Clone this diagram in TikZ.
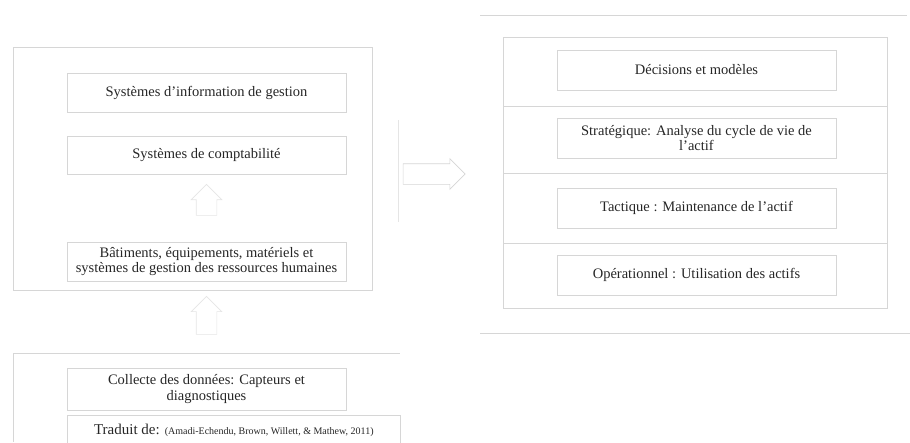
\documentclass[tikz,border=0pt]{standalone}
\usepackage{fontspec}
\setmainfont{Liberation Serif}
\usetikzlibrary{shapes.arrows,calc}
\definecolor{edge}{gray}{0.84}
\definecolor{faint}{gray}{0.9}
\definecolor{ink}{gray}{0.15}
\begin{document}
\begin{tikzpicture}[x=1pt,y=-1pt,
  panel/.style={draw=edge,line width=0.7pt},
  boxed/.style={draw=edge,line width=0.7pt,text=ink,align=center,
    minimum width=279pt,inner sep=2pt,font=\fontsize{14.5}{15.5}\selectfont},
  blockarrow/.style={single arrow,draw=faint,fill=white,line width=0.6pt,
    single arrow head extend=5pt}]
\useasboundingbox (0,0) rectangle (910,442);
% left panel and bottom panel
\draw[panel] (13,47) rectangle (372,290);
\draw[panel] (13,353) -- (400,353);
\draw[panel] (13,353) -- (13,442);
% right panel
\draw[panel] (480,15) -- (907,15);
\draw[panel] (480,333) -- (910,333);
\draw[panel] (503,37) rectangle (887,308);
\draw[panel] (503,106) -- (887,106);
\draw[panel] (503,173) -- (887,173);
\draw[panel] (503,243) -- (887,243);
\draw[faint,line width=0.4pt] (398,120) -- (398,222);
% left boxes
\node[boxed,minimum height=39pt] (sig) at (206.5,92.5) {Systèmes d'information de gestion};
\node[boxed,minimum height=38pt] (compta) at (206.5,155) {Systèmes de comptabilité};
\node[boxed,minimum height=39pt] (bat) at (206.5,261.5) {Bâtiments, équipements, matériels et\\systèmes de gestion des ressources humaines};
\node[boxed,minimum height=42pt] (collecte) at (206.5,389) {Collecte des données: Capteurs et\\diagnostiques};
\node[boxed,minimum width=333pt,minimum height=30pt,anchor=north west,inner xsep=20pt] (trad) at (67,415)
  {\fontsize{15}{16}\selectfont Traduit de: {\fontsize{10}{11}\selectfont(Amadi-Echendu, Brown, Willett, \& Mathew, 2011)}};
% right boxes
\node[boxed,minimum height=40pt] (dec) at (696.5,70) {Décisions et modèles};
\node[boxed,minimum height=40pt] (strat) at (696.5,138) {Stratégique: Analyse du cycle de vie de\\l'actif};
\node[boxed,minimum height=40pt] (tact) at (696.5,208) {Tactique : Maintenance de l'actif};
\node[boxed,minimum height=40pt] (oper) at (696.5,275) {Opérationnel : Utilisation des actifs};
% block arrows
\node[blockarrow,shape border rotate=90,inner sep=10pt,minimum height=30pt]
  (up1) at ($(compta.south)!0.5!(bat.north)+(0,-3)$) {};
\node[blockarrow,shape border rotate=90,inner sep=10pt,minimum height=38pt]
  (up2) at ($(bat.south)!0.5!(collecte.north)+(0,-4)$) {};
\node[blockarrow,draw=edge,inner sep=10pt,minimum height=62pt] (right) at (429,174) {};
\end{tikzpicture}
\end{document}
